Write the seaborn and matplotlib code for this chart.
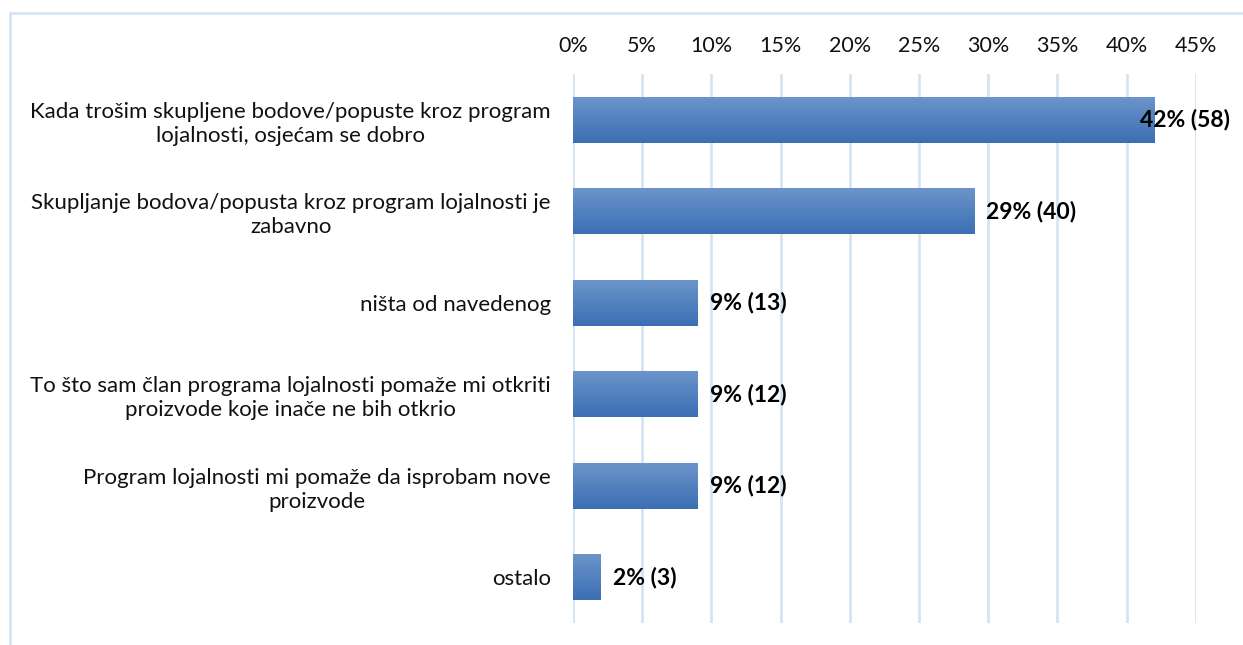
import numpy as np
import pandas as pd
import seaborn as sns
import matplotlib.pyplot as plt
from matplotlib.lines import Line2D
from matplotlib.colors import LinearSegmentedColormap

# Data
labels = [
    "Kada trošim skupljene bodove/popuste kroz program\nlojalnosti, osjećam se dobro",
    "Skupljanje bodova/popusta kroz program lojalnosti je\nzabavno",
    "ništa od navedenog",
    "To što sam član programa lojalnosti pomaže mi otkriti\nproizvode koje inače ne bih otkrio",
    "Program lojalnosti mi pomaže da isprobam nove\nproizvode",
    "ostalo",
]
percents = [42, 29, 9, 9, 9, 2]
counts = [58, 40, 13, 12, 12, 3]
ticks = [0, 5, 10, 15, 20, 25, 30, 35, 40, 45]

df = pd.DataFrame({"label": labels, "pct": percents, "n": counts})

sns.set_theme(style="white")
plt.rcParams["font.family"] = ["Lato", "DejaVu Sans"]

fig = plt.figure(figsize=(12.43, 6.45), dpi=100)
ax = fig.add_axes([0.461, 0.034, 0.501, 0.851])

sns.barplot(data=df, x="pct", y="label", color="#4a7ebf", width=0.5,
            orient="h", ax=ax, zorder=2)

# vertical gradient on each bar
grad = LinearSegmentedColormap.from_list("g", ["#6b94ca", "#3b6fb4"])
g = np.linspace(0, 1, 64).reshape(-1, 1)
for p in ax.patches:
    x0, y0 = p.get_x(), p.get_y()
    w, h = p.get_width(), p.get_height()
    ax.imshow(g, cmap=grad, aspect="auto", extent=(x0, x0 + w, y0 + h, y0),
              zorder=3, interpolation="bicubic")
    p.set_alpha(0)

ax.set_xlim(0, 45)
ax.set_ylim(len(labels) - 0.5, -0.5)
ax.set_xticks(ticks)
ax.set_xticklabels([f"{t}%" for t in ticks])
ax.xaxis.tick_top()
ax.tick_params(axis="x", length=0, pad=13, labelsize=15.5, colors="#111111")
ax.tick_params(axis="y", length=0, pad=16, labelsize=16, colors="#111111")
for t in ax.get_yticklabels():
    t.set_multialignment("center")
    t.set_linespacing(1.25)
ax.set_xlabel("")
ax.set_ylabel("")
ax.grid(axis="x", color="#d5e3f3", linewidth=2, zorder=0)
ax.grid(axis="y", visible=False)
for s in ax.spines.values():
    s.set_visible(False)

# value labels (the longest one is pulled back so it fits the frame)
for i, (v, n) in enumerate(zip(percents, counts)):
    off = 12 if v < 40 else -14
    ax.annotate(f"{v}% ({n})", xy=(v, i), xytext=(off, 0),
                textcoords="offset pixels", ha="left", va="center",
                fontsize=16.5, fontweight="bold", color="#000000",
                annotation_clip=False, zorder=5)

# outer chart frame (left and top edges visible)
fc = "#d5e3f3"
fig.add_artist(Line2D([10 / 1243, 10 / 1243], [0, 1 - 13 / 645],
                      transform=fig.transFigure, color=fc, linewidth=2))
fig.add_artist(Line2D([10 / 1243, 1], [1 - 13 / 645, 1 - 13 / 645],
                      transform=fig.transFigure, color=fc, linewidth=2))

fig.savefig("out.png", dpi=100)
